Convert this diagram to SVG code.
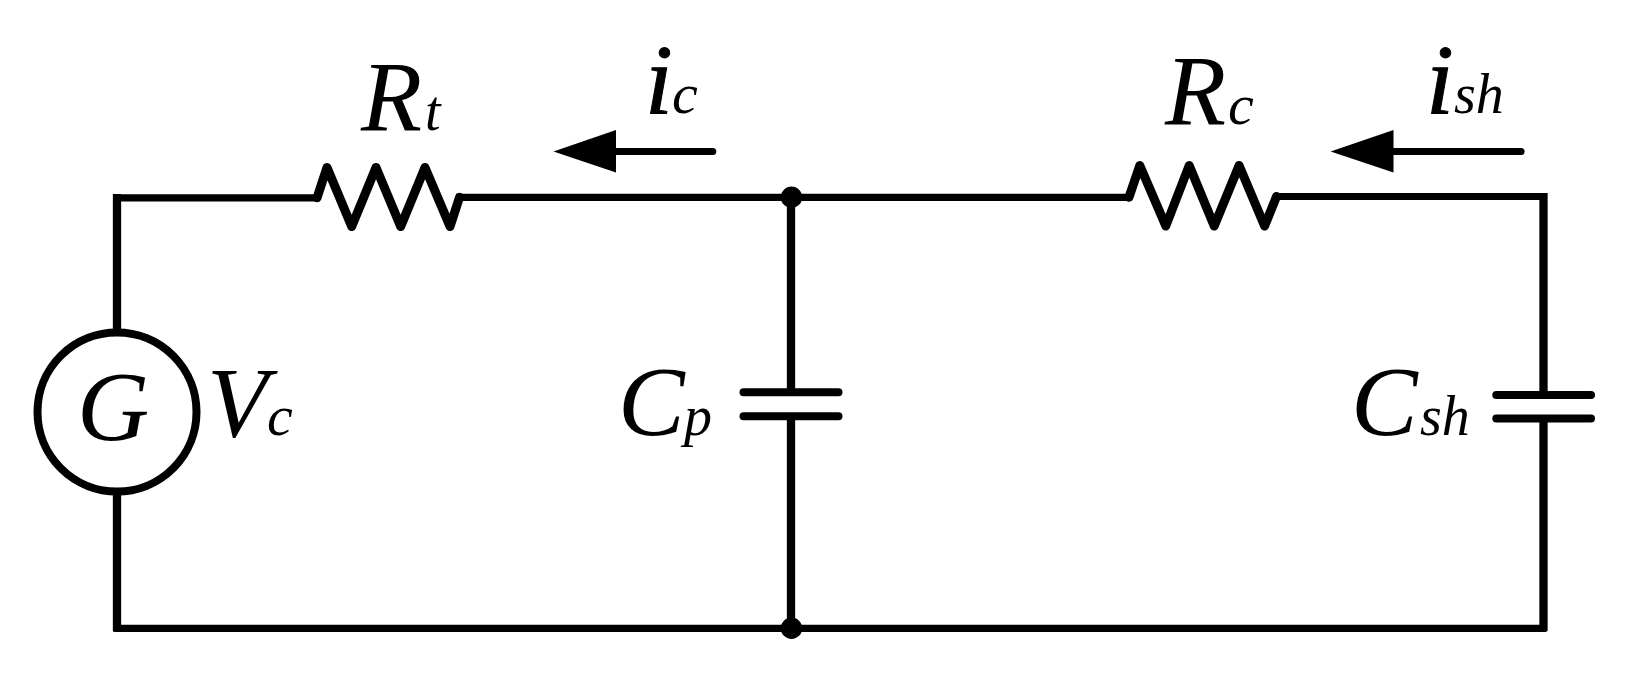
<svg xmlns="http://www.w3.org/2000/svg" width="1630" height="678" viewBox="0 0 1630 678">
<style>
.h{fill:none;stroke:#000;stroke-width:7.2;stroke-linecap:square}
.v{fill:none;stroke:#000;stroke-width:8.3;stroke-linecap:butt}
.z{fill:none;stroke:#000;stroke-width:9;stroke-linejoin:round;stroke-linecap:round}
.r{fill:none;stroke:#000;stroke-width:7.2;stroke-linecap:round}
.p{fill:none;stroke:#000;stroke-width:8;stroke-linecap:round}
.a{fill:#000;stroke:none}
text{font-family:"Liberation Serif","Times New Roman",serif;font-style:italic;fill:#000;font-size:100px}
.s{font-size:56px}
.c{font-size:58px}
.i{stroke:#000;stroke-width:1}
</style>
<rect width="1630" height="678" fill="#fff"/>
<g id="connectors">
<path class="v" d="M117 194V330"/>
<path class="v" d="M117 494V631"/>
<path class="h" d="M117 197.800H316"/>
<path class="h" d="M460 197.300H1128"/>
<path class="h" d="M1277 196.500H1543"/>
<path class="h" d="M117 628.300H1543"/>
<path class="v" d="M791 197V392"/>
<path class="v" d="M791 416V628"/>
<path class="v" d="M1543.500 193V395"/>
<path class="v" d="M1543.500 419V631"/>
</g>
<g id="R_t">
<polyline class="z" points="317,197.800 327,167.500 351.700,226.500 376,167.500 400.700,226.500 425,167.500 450,226.500 459.500,197.300"/>
<text x="361" y="129.500">R</text><text class="s" x="425" y="129.500">t</text>
</g>
<g id="R_c">
<polyline class="z" points="1129,197.300 1139.800,165.500 1165.800,226 1189.200,165.500 1214.200,226 1239.100,165.500 1264.600,226 1276.500,196.500"/>
<text x="1165" y="124">R</text><text class="c" x="1228" y="124">c</text>
</g>
<g id="i_c">
<path class="a" d="M553.500 151.500L616 130V172.500Z"/>
<line class="r" x1="616" y1="151.500" x2="712.700" y2="151.500"/>
<text class="i" x="645" y="113">i</text><text class="c" x="672" y="113">c</text>
</g>
<g id="i_sh">
<path class="a" d="M1330.600 151.500L1393.500 130V172.500Z"/>
<line class="r" x1="1393" y1="151.500" x2="1521" y2="151.500"/>
<text class="i" x="1426" y="113">i</text><text class="s" x="1454" y="113">sh</text>
</g>
<g id="G">
<circle cx="117" cy="412" r="79.500" fill="none" stroke="#000" stroke-width="8"/>
<text x="77" y="440">G</text>
<text x="207" y="436">V</text><text class="c" x="267" y="435">c</text>
</g>
<g id="C_p">
<line class="p" x1="743.500" y1="392.300" x2="838.500" y2="392.300"/>
<line class="p" x1="743.500" y1="416.300" x2="838.500" y2="416.300"/>
<text x="618" y="435">C</text><text class="s" x="684" y="435">p</text>
</g>
<g id="C_sh">
<line class="p" x1="1496.300" y1="395" x2="1591" y2="395"/>
<line class="p" x1="1496.300" y1="418.500" x2="1591" y2="418.500"/>
<text x="1351" y="435">C</text><text class="s" x="1420" y="435">sh</text>
</g>
<g id="J1"><circle cx="791.500" cy="197.300" r="10.700"/></g>
<g id="J2"><circle cx="791.500" cy="628.300" r="10.700"/></g>
</svg>
